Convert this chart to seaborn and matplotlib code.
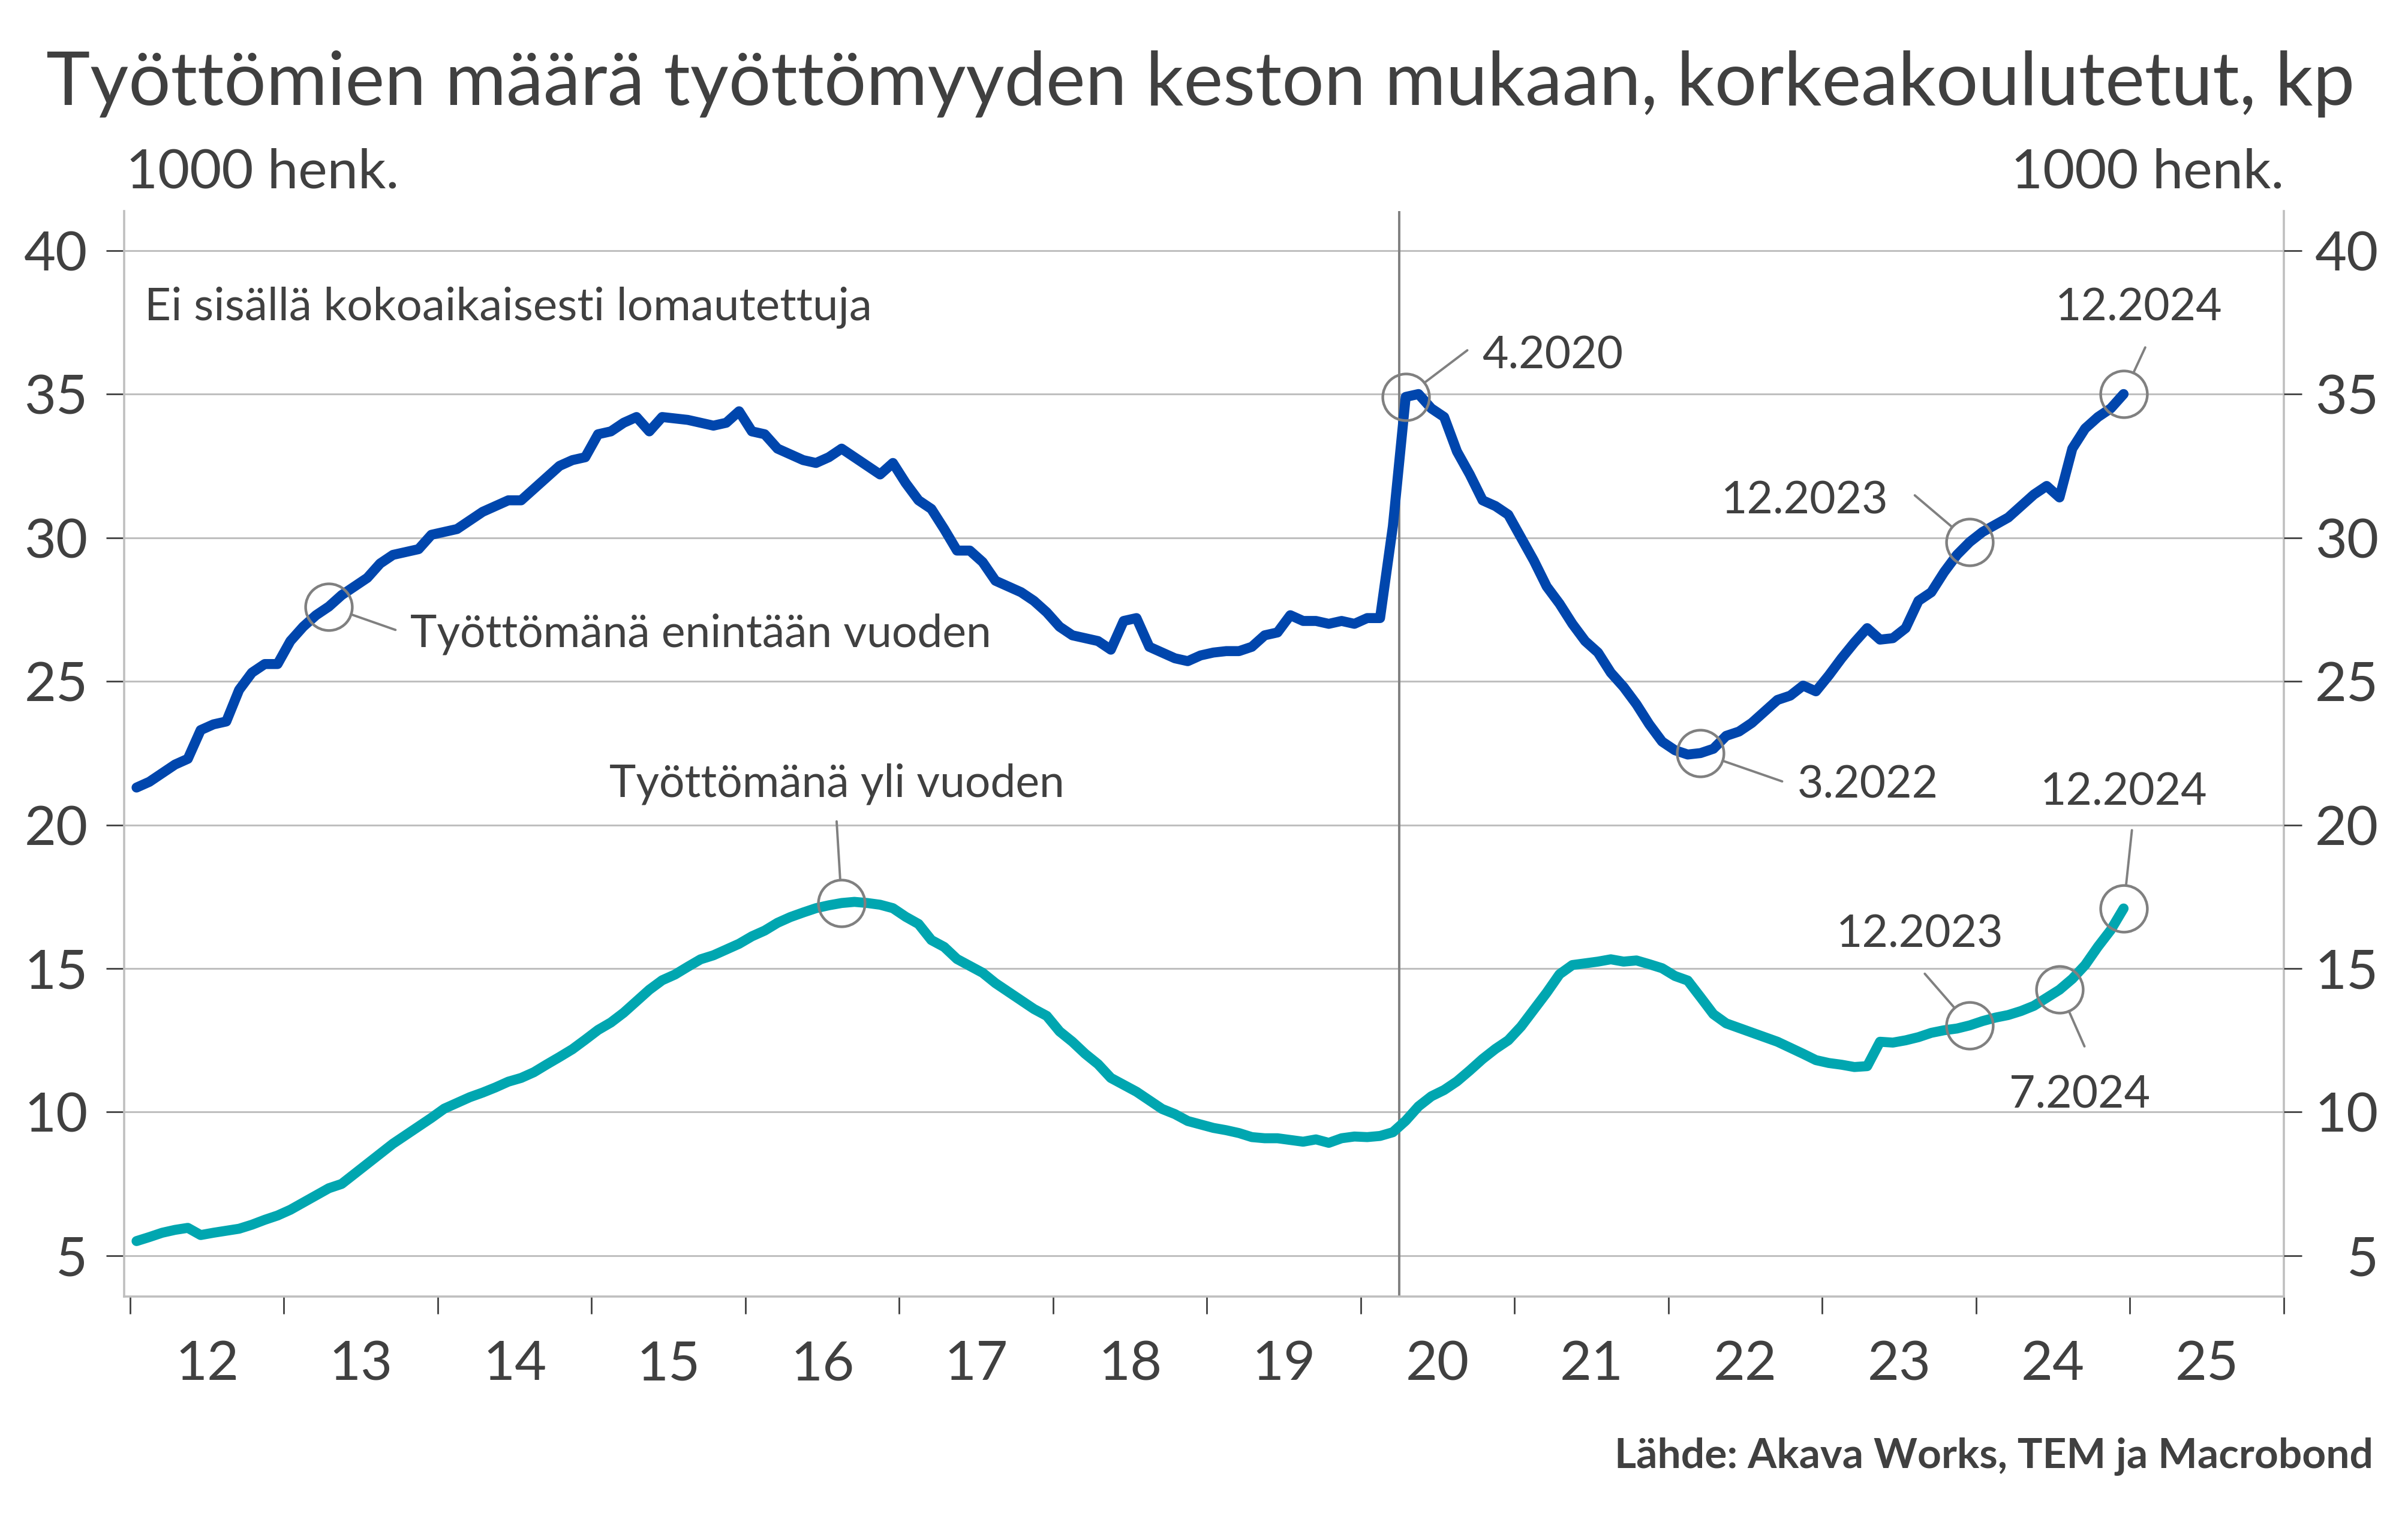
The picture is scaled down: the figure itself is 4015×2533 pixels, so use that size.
import matplotlib
matplotlib.use("Agg")
import matplotlib.pyplot as plt
import numpy as np
import pandas as pd
import seaborn as sns

# Työttömät korkeakoulutetut, 1000 henk., kuukausittain 1/2012 - 12/2024
short_term = [  # työttömänä enintään vuoden
    21.3, 21.5, 21.8, 22.1, 22.3, 23.3, 23.5, 23.6, 24.7, 25.3, 25.6, 25.6,
    26.4, 26.9, 27.3, 27.6, 28.0, 28.3, 28.6, 29.1, 29.4, 29.5, 29.6, 30.1,
    30.2, 30.3, 30.6, 30.9, 31.1, 31.3, 31.3, 31.7, 32.1, 32.5, 32.7, 32.8,
    33.6, 33.7, 34.0, 34.2, 33.7, 34.2, 34.15, 34.1, 34.0, 33.9, 34.0, 34.4,
    33.7, 33.6, 33.1, 32.9, 32.7, 32.6, 32.8, 33.1, 32.8, 32.5, 32.2, 32.6,
    31.9, 31.3, 31.0, 30.3, 29.55, 29.55, 29.15, 28.5, 28.3, 28.1, 27.8, 27.4,
    26.9, 26.6, 26.5, 26.4, 26.1, 27.1, 27.2, 26.2, 26.0, 25.8, 25.7, 25.9,
    26.0, 26.05, 26.05, 26.2, 26.6, 26.7, 27.3, 27.1, 27.1, 27.0, 27.1, 27.0,
    27.2, 27.2, 30.4, 34.9, 35.0, 34.5, 34.2, 33.0, 32.2, 31.3, 31.1, 30.8,
    30.0, 29.2, 28.3, 27.7, 27.0, 26.4, 26.0, 25.3, 24.8, 24.2, 23.5, 22.9,
    22.6, 22.45, 22.5, 22.65, 23.1, 23.25, 23.55, 23.95, 24.35, 24.5, 24.85, 24.65,
    25.2, 25.8, 26.35, 26.85, 26.45, 26.5, 26.85, 27.8, 28.1, 28.8, 29.4, 29.85,
    30.2, 30.45, 30.7, 31.1, 31.5, 31.8, 31.4, 33.1, 33.8, 34.2, 34.5, 35.0,
]
long_term = [  # työttömänä yli vuoden
    5.51, 5.65, 5.8, 5.9, 5.97, 5.72, 5.8, 5.87, 5.94, 6.08, 6.25, 6.4,
    6.6, 6.85, 7.1, 7.35, 7.5, 7.85, 8.2, 8.55, 8.9, 9.2, 9.5, 9.8,
    10.12, 10.32, 10.52, 10.68, 10.86, 11.06, 11.19, 11.39, 11.66, 11.92, 12.19, 12.52,
    12.86, 13.12, 13.46, 13.86, 14.26, 14.59, 14.79, 15.06, 15.32, 15.46, 15.66, 15.86,
    16.12, 16.32, 16.59, 16.79, 16.95, 17.1, 17.2, 17.28, 17.32, 17.28, 17.22, 17.1,
    16.8, 16.55, 15.99, 15.75, 15.33, 15.09, 14.85, 14.49, 14.19, 13.89, 13.59, 13.35,
    12.81, 12.45, 12.03, 11.67, 11.19, 10.95, 10.71, 10.41, 10.11, 9.93, 9.69, 9.57,
    9.45, 9.37, 9.27, 9.13, 9.09, 9.09, 9.03, 8.97, 9.05, 8.93, 9.09, 9.15,
    9.13, 9.17, 9.3, 9.7, 10.2, 10.55, 10.77, 11.07, 11.45, 11.85, 12.2, 12.5,
    12.98, 13.57, 14.16, 14.8, 15.12, 15.18, 15.24, 15.32, 15.24, 15.28, 15.15, 15.01,
    14.74, 14.58, 14.0, 13.41, 13.09, 12.93, 12.77, 12.61, 12.45, 12.24, 12.03, 11.81,
    11.71, 11.65, 11.57, 11.6, 12.45, 12.42, 12.5, 12.61, 12.76, 12.85, 12.91, 13.02,
    13.17, 13.29, 13.38, 13.52, 13.7, 13.98, 14.26, 14.64, 15.12, 15.76, 16.34, 17.09,
]

year_ticks = list(range(2012, 2027))
year_labels = ["12", "13", "14", "15", "16", "17", "18", "19", "20", "21", "22", "23", "24", "25"]
y_ticks = [5, 10, 15, 20, 25, 30, 35, 40]
covid_break = 2020.25

# merkityt kuukaudet (indeksi sarjaan) ja tekstit
short_notes = [(15, "Työttömänä enintään vuoden"), (99, "4.2020"), (122, "3.2022"),
               (143, "12.2023"), (155, "12.2024")]
long_notes = [(55, "Työttömänä yli vuoden"), (143, "12.2023"), (150, "7.2024"),
              (155, "12.2024")]

# tekstin ja viivan paikat pisteinä merkitystä pisteestä: (teksti dx, dy, ha, viiva dx, dy)
short_layout = [(49, -24, "left", 40, -14), (46, 17, "left", 37, 28), (58, -27, "left", 49, -17),
                (-49, 17, "right", -33, 28), (9, 44, "center", 13, 28)]
long_layout = [(-3, 64, "center", -3, 49), (-30, 47, "center", -27, 31), (12, -71, "center", 15, -34),
               (0, 62, "center", 5, 47)]

BLUE = "#0046AD"
TEAL = "#00A6B0"
GRAY = "#808080"
TEXT = "#404040"
GRID = "#BFBFBF"

sns.set_theme(style="white")
plt.rcParams["font.family"] = ["Lato", "DejaVu Sans"]
plt.rcParams["text.color"] = TEXT

dates = pd.date_range("2012-01-01", periods=len(short_term), freq="MS")
xpos = np.asarray(dates.year + (dates.month - 0.5) / 12)
df = pd.DataFrame({
    "x": np.concatenate([xpos, xpos]),
    "value": short_term + long_term,
    "series": ["short"] * len(short_term) + ["long"] * len(long_term),
})

fig = plt.figure(figsize=(20.08, 12.665), dpi=200)
ax = fig.add_axes([0.05154, 0.14647, 0.89666, 0.71457])

ax.axvline(covid_break, color=GRAY, lw=1.4, zorder=1.5)
sns.lineplot(data=df, x="x", y="value", hue="series", palette={"short": BLUE, "long": TEAL},
             linewidth=6.0, estimator=None, sort=False, legend=False, ax=ax, zorder=3)

ax.set_xlim(2011.961, 2026.0)
ax.set_ylim(3.58, 41.37)
ax.set_xlabel("")
ax.set_ylabel("")

ax.set_xticks(year_ticks)
ax.set_xticklabels([""] * len(year_ticks))
ax.set_xticks([y + 0.5 for y in year_ticks[:-1]], minor=True)
ax.set_xticklabels(year_labels, minor=True)
ax.tick_params(axis="x", which="major", direction="out", length=10.5, width=1.0, color=TEXT, bottom=True)
ax.tick_params(axis="x", which="minor", length=0, pad=26, labelsize=33, labelcolor=TEXT, bottom=True)

ax.set_yticks(y_ticks)
ax.set_yticklabels([str(v) for v in y_ticks])
ax.tick_params(axis="y", direction="out", length=10.8, width=1.0, color=TEXT, left=True,
               pad=11, labelsize=33, labelcolor=TEXT)
ax.yaxis.grid(True, color=GRID, lw=1.1)
ax.xaxis.grid(False)
ax.set_axisbelow(True)

for side in ["left", "right", "bottom"]:
    ax.spines[side].set_visible(True)
    ax.spines[side].set_color(GRID)
    ax.spines[side].set_linewidth(1.3)
ax.spines["top"].set_visible(False)

ax2 = ax.twinx()
ax2.set_ylim(ax.get_ylim())
ax2.set_yticks(y_ticks)
ax2.set_yticklabels([str(v) for v in y_ticks])
ax2.tick_params(axis="y", direction="out", length=10.8, width=1.0, color=TEXT, right=True,
                pad=46, labelsize=33, labelcolor=TEXT)
for lab in ax2.get_yticklabels():
    lab.set_horizontalalignment("right")
for s in ax2.spines.values():
    s.set_visible(False)


def mark(values, notes, layout):
    for (i, label), (tx, ty, ha, lx, ly) in zip(notes, layout):
        x, y = xpos[i], values[i]
        ax.plot(x, y, "o", ms=28, mfc="none", mec=GRAY, mew=1.6, zorder=5)
        ax.annotate("", xy=(x, y), xytext=(lx, ly), textcoords="offset points",
                    arrowprops=dict(arrowstyle="-", color=GRAY, lw=1.4, shrinkA=0, shrinkB=14))
        ax.annotate(label, xy=(x, y), xytext=(tx, ty), textcoords="offset points",
                    ha=ha, va="baseline", fontsize=27, color=TEXT)


mark(short_term, short_notes, short_layout)
mark(long_term, long_notes, long_layout)

fig.text(0.0192, 0.9309, "Työttömien määrä työttömyyden keston mukaan, korkeakoulutetut, kp",
         fontsize=44.7, color=TEXT, ha="left", va="baseline")
fig.text(0.0523, 0.8764, "1000 henk.", fontsize=33, color=TEXT, ha="left", va="baseline")
fig.text(0.9482, 0.8764, "1000 henk.", fontsize=33, color=TEXT, ha="right", va="baseline")
fig.text(0.060, 0.7892, "Ei sisällä kokoaikaisesti lomautettuja", fontsize=27.5, color=TEXT,
         ha="left", va="baseline")
fig.text(0.9853, 0.0336, "Lähde: Akava Works, TEM ja Macrobond", fontsize=25, fontweight="bold",
         color=TEXT, ha="right", va="baseline")

fig.savefig("out.png", dpi=200)
